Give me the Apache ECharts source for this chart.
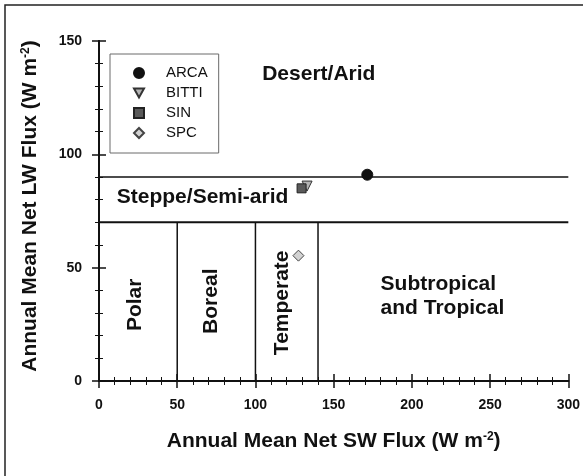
<!DOCTYPE html>
<html>
<head>
<meta charset="utf-8">
<script src="https://cdn.jsdelivr.net/npm/echarts@6/dist/echarts.min.js"></script>
<style>
  html, body { margin: 0; padding: 0; background: #fff; }
  #chart { width: 583px; height: 476px; }
</style>
</head>
<body>
<div id="chart"></div>
<script>
// Site values: annual mean net shortwave vs. net longwave flux (W m-2)
const siteNames = ['ARCA', 'BITTI', 'SIN', 'SPC'];
const siteSW = [171.5, 133, 129.5, 127.5];
const siteLW = [91, 86, 85, 55.3];

// Climate-zone boundaries (W m-2)
const aridLW = 90;          // above: Desert/Arid
const semiAridLW = 70;      // 70-90: Steppe/Semi-arid
const zoneSW = [50, 100, 140]; // below 70: Polar | Boreal | Temperate | Subtropical
const swRange = [0, 300];
const lwRange = [0, 150];

// Zone names and where they are written (data coordinates)
const zoneNames = ['Desert/Arid', 'Steppe/Semi-arid', 'Polar', 'Boreal', 'Temperate', 'Subtropical\nand Tropical'];
const zoneLabelSW = [140.5, 66.2, 23, 72, 117.2, 180];
const zoneLabelLW = [135.4, 81, 33.6, 35.2, 34.5, 37.6];

const FONT = '"Liberation Sans", Arial, Helvetica, sans-serif';
const INK = '#111111';

// Downward-pointing triangle drawn as a path so the legend keeps its shape
const DOWN_TRIANGLE = 'path://M0,0L10,0L5,9Z';

const siteStyles = {
  ARCA:  { symbol: 'circle',      size: 11, color: '#111111', border: '#111111' },
  BITTI: { symbol: DOWN_TRIANGLE, size: 10, color: '#b4b4b4', border: '#333333' },
  SIN:   { symbol: 'rect',        size: 9,  color: '#5a5a5a', border: '#222222' },
  SPC:   { symbol: 'diamond',     size: 11, color: '#d2d2d2', border: '#444444' }
};

const boundarySeries = [];
function boundary(points, width) {
  boundarySeries.push({
    type: 'line',
    data: points,
    symbol: 'none',
    silent: true,
    z: 1,
    lineStyle: { color: INK, width: width },
    animation: false
  });
}
boundary([[swRange[0], aridLW], [swRange[1], aridLW]], 1.5);
boundary([[swRange[0], semiAridLW], [swRange[1], semiAridLW]], 2);
zoneSW.forEach(function (sw) {
  boundary([[sw, lwRange[0]], [sw, semiAridLW]], 1.5);
});

const zoneLabelData = zoneNames.map(function (name, i) {
  const vertical = (name === 'Polar' || name === 'Boreal' || name === 'Temperate');
  const multi = name.indexOf('\n') >= 0;
  return {
    value: [zoneLabelSW[i], zoneLabelLW[i]],
    name: name,
    label: {
      show: true,
      position: 'inside',
      formatter: name,
      rotate: vertical ? 90 : 0,
      align: multi ? 'left' : 'center',
      verticalAlign: 'middle',
      lineHeight: 24,
      fontFamily: FONT,
      fontWeight: 'bold',
      fontSize: 21,
      color: INK
    }
  };
});

const siteSeries = siteNames.map(function (name, i) {
  const s = siteStyles[name];
  return {
    name: name,
    type: 'scatter',
    data: [[siteSW[i], siteLW[i]]],
    symbol: s.symbol,
    symbolSize: s.size,
    z: 5,
    itemStyle: { color: s.color, borderColor: s.border, borderWidth: 1, opacity: 1 },
    animation: false
  };
});

const tickLabel = { fontFamily: FONT, fontWeight: 'bold', fontSize: 14, color: INK };
const axisLine = { show: true, lineStyle: { color: INK, width: 2 } };
const majorTick = { show: true, inside: false, length: 7, lineStyle: { color: INK, width: 1.5 } };
const minorTick = { show: true, splitNumber: 5, length: 4, lineStyle: { color: INK, width: 1 } };
const titleRich = {
  t: { fontFamily: FONT, fontWeight: 'bold', fontSize: 21, color: INK },
  sup: { fontFamily: FONT, fontWeight: 'bold', fontSize: 12, color: INK, verticalAlign: 'top' }
};

const chart = echarts.init(document.getElementById('chart'), null, { renderer: 'canvas' });
chart.setOption({
  backgroundColor: '#ffffff',
  animation: false,
  grid: { left: 99, right: 13, top: 41, bottom: 95 },
  legend: {
    data: siteNames,
    orient: 'vertical',
    left: 110,
    top: 54,
    itemWidth: 10,
    itemHeight: 10,
    itemGap: 4,
    padding: [11, 11, 12, 23],
    borderColor: '#6a6a6a',
    borderWidth: 1,
    backgroundColor: '#ffffff',
    formatter: '{n|{name}}',
    textStyle: {
      fontFamily: FONT, fontSize: 15, color: INK, lineHeight: 16,
      rich: { n: { fontFamily: FONT, fontSize: 15, color: INK, lineHeight: 16, padding: [0, 0, 0, 17] } }
    },
    selectedMode: false
  },
  xAxis: [
    {
      type: 'value', min: swRange[0], max: swRange[1], interval: 50,
      position: 'bottom',
      name: '{t|Annual Mean Net SW Flux (W m}{sup|-2}{t|)}',
      nameLocation: 'middle', nameGap: 50,
      nameTextStyle: { rich: titleRich },
      axisLine: axisLine, axisTick: majorTick, minorTick: minorTick,
      axisLabel: Object.assign({ margin: 17 }, tickLabel),
      splitLine: { show: false }
    },
    {
      type: 'value', min: swRange[0], max: swRange[1], interval: 50,
      position: 'top',
      axisLine: axisLine, axisTick: majorTick, minorTick: minorTick,
      axisLabel: { show: false },
      splitLine: { show: false }
    }
  ],
  yAxis: [
    {
      type: 'value', min: lwRange[0], max: lwRange[1], interval: 50,
      position: 'left',
      name: '{t|Annual Mean Net LW Flux (W m}{sup|-2}{t|)}',
      nameLocation: 'middle', nameGap: 58, nameRotate: 90,
      nameTextStyle: { rich: titleRich, padding: [0, 0, 0, 10] },
      axisLine: axisLine, axisTick: majorTick, minorTick: minorTick,
      axisLabel: Object.assign({ margin: 17 }, tickLabel),
      splitLine: { show: false }
    },
    {
      type: 'value', min: lwRange[0], max: lwRange[1], interval: 50,
      position: 'right',
      axisLine: axisLine, axisTick: majorTick, minorTick: minorTick,
      axisLabel: { show: false },
      splitLine: { show: false }
    }
  ],
  graphic: [
    {
      type: 'rect',
      shape: { x: 5, y: 5, width: 620, height: 520 },
      style: { fill: 'none', stroke: '#222', lineWidth: 1.5 },
      silent: true,
      z: 0
    }
  ],
  series: boundarySeries.concat([
    {
      name: 'zones',
      type: 'scatter',
      data: zoneLabelData,
      symbolSize: 0,
      itemStyle: { opacity: 1 },
      silent: true,
      z: 3,
      animation: false
    }
  ]).concat(siteSeries)
});
</script>
</body>
</html>
